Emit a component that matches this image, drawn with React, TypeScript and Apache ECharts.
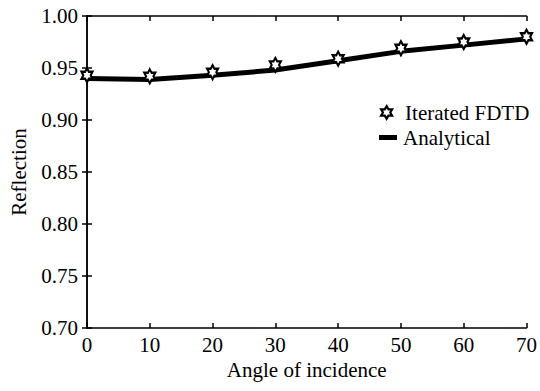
import React, { useEffect, useRef } from "react";
import * as echarts from "echarts";

const angles = [0, 10, 20, 30, 40, 50, 60, 70];
const fdtdValues = [0.943, 0.942, 0.946, 0.953, 0.959, 0.969, 0.975, 0.98];
const analyticalValues = [0.94, 0.939, 0.943, 0.948, 0.957, 0.966, 0.972, 0.978];
const yTicks = [0.7, 0.75, 0.8, 0.85, 0.9, 0.95, 1.0];

const HEX =
  "path://M50,0 L64.4,25 L93.3,25 L78.9,50 L93.3,75 L64.4,75 L50,100 L35.6,75 L6.7,75 L21.1,50 L6.7,25 L35.6,25 Z";

const FONT = "Liberation Serif";

export default function App() {
  const ref = useRef<HTMLDivElement>(null);
  useEffect(() => {
    if (!ref.current) return;
    const chart = echarts.init(ref.current, null, { renderer: "svg" });
    const axisLine = { show: true, lineStyle: { color: "#000", width: 1.5 } };
    const txt = { fontFamily: FONT, fontSize: 21, color: "#000" };
    chart.setOption({
      animation: false,
      backgroundColor: "#fff",
      textStyle: { fontFamily: FONT },
      grid: { left: 84, right: 8, top: 16, bottom: 63 },
      legend: [
        {
          left: 375,
          top: 97,
          itemWidth: 11,
          itemHeight: 13,
          textStyle: { ...txt, padding: [0, 0, 0, 8] },
          data: [{ name: "Iterated FDTD", icon: HEX, itemStyle: { color: "#fff", borderColor: "#000", borderWidth: 2.2 } }],
        },
        {
          left: 374,
          top: 122,
          itemWidth: 18,
          itemHeight: 5,
          textStyle: { ...txt, padding: [0, 0, 0, 1] },
          data: [{ name: "Analytical", icon: "rect", itemStyle: { color: "#000" } }],
        },
      ],
      xAxis: [
        {
          type: "value",
          min: 0,
          max: 70,
          interval: 10,
          name: "Angle of incidence",
          nameLocation: "middle",
          nameGap: 31,
          nameTextStyle: txt,
          axisLine,
          axisTick: { inside: true, length: 5, lineStyle: { color: "#000", width: 1.5 } },
          axisLabel: { ...txt, margin: 6 },
          splitLine: { show: false },
        },
        {
          type: "value",
          position: "top",
          min: 0,
          max: 70,
          interval: 10,
          axisLine,
          axisTick: { inside: true, length: 5, lineStyle: { color: "#000", width: 1.5 } },
          axisLabel: { show: false },
          splitLine: { show: false },
        },
      ],
      yAxis: [
        {
          type: "value",
          min: 0.7,
          max: 1.0,
          interval: 0.05,
          name: "Reflection",
          nameLocation: "middle",
          nameGap: 58,
          nameTextStyle: txt,
          axisLine,
          axisTick: { inside: true, length: 5, lineStyle: { color: "#000", width: 1.5 } },
          axisLabel: {
            ...txt,
            margin: 9,
            formatter: (v: number) => {
              const t = yTicks.find((y) => Math.abs(y - v) < 1e-6);
              return (t ?? v).toFixed(2);
            },
          },
          splitLine: { show: false },
        },
        {
          type: "value",
          position: "right",
          min: 0.7,
          max: 1.0,
          interval: 0.05,
          axisLine,
          axisTick: { inside: true, length: 5, lineStyle: { color: "#000", width: 1.5 } },
          axisLabel: { show: false },
          splitLine: { show: false },
        },
      ],
      series: [
        {
          name: "Analytical",
          type: "line",
          data: angles.map((a, i) => [a, analyticalValues[i]]),
          showSymbol: false,
          symbol: "none",
          lineStyle: { color: "#000", width: 5 },
          itemStyle: { color: "#000" },
          z: 2,
        },
        {
          name: "Iterated FDTD",
          type: "line",
          data: angles.map((a, i) => [a, fdtdValues[i]]),
          lineStyle: { width: 0, opacity: 0 },
          symbol: HEX,
          symbolSize: [11, 14],
          itemStyle: { color: "#fff", borderColor: "#000", borderWidth: 2.2 },
          z: 3,
        },
      ],
    });
    return () => chart.dispose();
  }, []);
  return <div ref={ref} style={{ width: 540, height: 391, position: "absolute", left: 0, top: 0 }} />;
}
